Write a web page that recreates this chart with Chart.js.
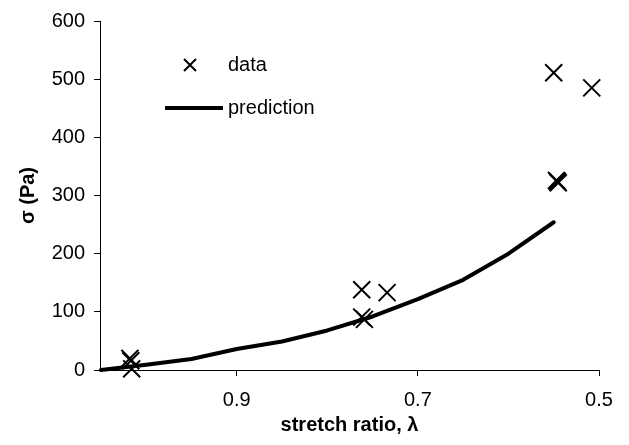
<!DOCTYPE html>
<html>
<head>
<meta charset="utf-8">
<script src="https://cdn.jsdelivr.net/npm/chart.js@4"></script>
<style>
  html, body { margin: 0; padding: 0; background: #fff; }
  #wrap { width: 629px; height: 445px; }
</style>
</head>
<body>
<div id="wrap"><canvas id="stress-chart" width="629" height="445"></canvas></div>
<script>
// measured points (stretch ratio, stress in Pa)
const dataLambda = [1.018, 1.017, 1.016, 0.762, 0.734, 0.762, 0.759, 0.550, 0.508, 0.547, 0.545, 0.546];
const dataSigma  = [20, 16, 2, 138, 133, 91, 87, 511, 485, 326, 322, 324];

// model prediction
const predLambda = [1.05, 1.0, 0.95, 0.9, 0.85, 0.8, 0.75, 0.7, 0.65, 0.6, 0.55];
const predSigma  = [0, 9, 19, 36, 49, 68, 92, 122, 155, 200, 254];

const xTicks = [0.9, 0.7, 0.5];
const yTicks = [0, 100, 200, 300, 400, 500, 600];

const FONT = "'Liberation Sans', Arial, sans-serif";

// legend drawn inside the plot, like the original
const insideLegend = {
    id: 'insideLegend',
    afterDraw(chart) {
        const ctx = chart.ctx;
        const ds = chart.data.datasets;
        ctx.save();
        ctx.font = '20px ' + FONT;
        ctx.fillStyle = '#000';
        ctx.textBaseline = 'middle';
        // data
        ctx.strokeStyle = '#000';
        ctx.lineWidth = 2;
        ctx.beginPath();
        ctx.moveTo(184, 59); ctx.lineTo(196, 71);
        ctx.moveTo(196, 59); ctx.lineTo(184, 71);
        ctx.stroke();
        ctx.fillText(ds[0].label, 228, 65);
        // prediction
        ctx.lineWidth = 4;
        ctx.beginPath();
        ctx.moveTo(165, 108); ctx.lineTo(223, 108);
        ctx.stroke();
        ctx.fillText(ds[1].label, 228, 108);
        ctx.restore();
    }
};

const ctx = document.getElementById('stress-chart').getContext('2d');
new Chart(ctx, {
    type: 'scatter',
    data: {
        datasets: [
            {
                label: 'data',
                data: dataLambda.map((x, i) => ({ x: x, y: dataSigma[i] })),
                pointStyle: 'crossRot',
                pointRadius: 12,
                pointBorderWidth: 2,
                borderColor: '#000',
                backgroundColor: '#000',
                clip: false,
                order: 2
            },
            {
                label: 'prediction',
                type: 'line',
                data: predLambda.map((x, i) => ({ x: x, y: predSigma[i] })),
                borderColor: '#000',
                borderWidth: 4,
                borderCapStyle: 'round',
                borderJoinStyle: 'round',
                pointRadius: 0,
                tension: 0,
                fill: false,
                clip: false,
                order: 1
            }
        ]
    },
    options: {
        responsive: false,
        animation: false,
        layout: { padding: { top: 19, right: 30, left: 0, bottom: 0 } },
        plugins: { legend: { display: false }, tooltip: { enabled: false } },
        scales: {
            x: {
                type: 'linear',
                reverse: true,
                min: 0.5,
                max: 1.051,
                afterBuildTicks: s => { s.ticks = xTicks.map(v => ({ value: v })); },
                afterFit: s => { s.height = 75; },
                grid: { display: true, drawOnChartArea: false, drawTicks: true, tickLength: 6, color: '#000' },
                border: { display: true, color: '#000', width: 1 },
                ticks: {
                    color: '#000',
                    font: { family: FONT, size: 20 },
                    padding: 12,
                    maxRotation: 0,
                    callback: v => v.toFixed(1)
                },
                title: {
                    display: true,
                    text: 'stretch ratio, λ',
                    color: '#000',
                    font: { family: FONT, size: 20, weight: 'bold' },
                    padding: { top: 0, bottom: 8 }
                }
            },
            y: {
                type: 'linear',
                min: 0,
                max: 600,
                afterBuildTicks: s => { s.ticks = yTicks.map(v => ({ value: v })); },
                afterFit: s => { s.width = 100; },
                grid: { display: true, drawOnChartArea: false, drawTicks: true, tickLength: 6, color: '#000' },
                border: { display: true, color: '#000', width: 1 },
                ticks: {
                    color: '#000',
                    font: { family: FONT, size: 20 },
                    padding: 9
                },
                title: {
                    display: true,
                    text: 'σ (Pa)',
                    color: '#000',
                    font: { family: FONT, size: 20, weight: 'bold' },
                    padding: { top: 16, bottom: 0 }
                }
            }
        }
    },
    plugins: [insideLegend]
});
</script>
</body>
</html>
